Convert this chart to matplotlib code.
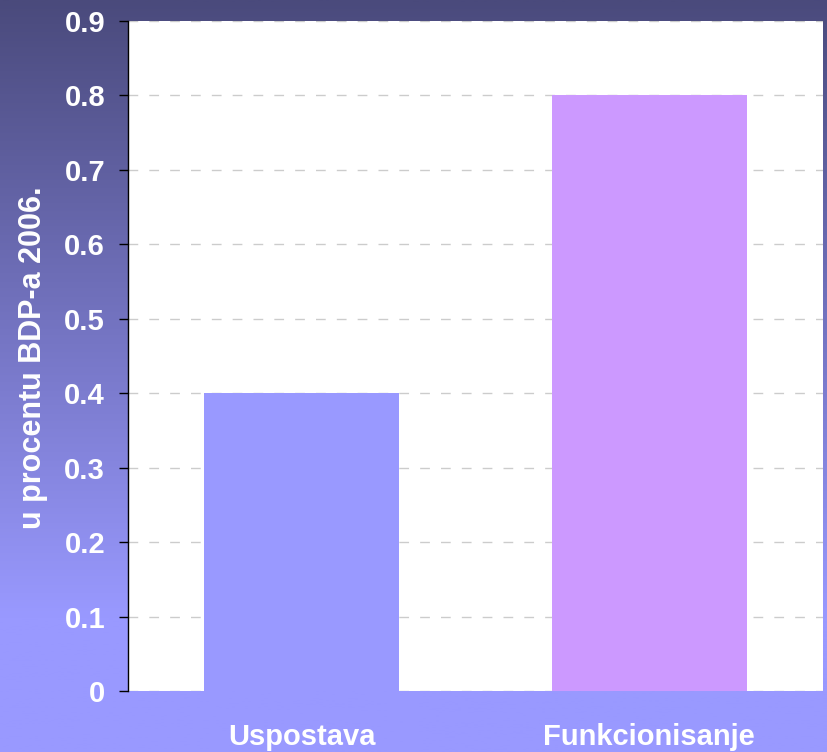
import numpy as np
import matplotlib
matplotlib.use("Agg")
import matplotlib.pyplot as plt
from matplotlib.colors import LinearSegmentedColormap

categories = ["Uspostava", "Funkcionisanje"]
values = [0.4, 0.8]
bar_colors = ["#9999ff", "#cc99ff"]
yticks = [0, 0.1, 0.2, 0.3, 0.4, 0.5, 0.6, 0.7, 0.8, 0.9]
ytick_labels = ["0", "0.1", "0.2", "0.3", "0.4", "0.5", "0.6", "0.7", "0.8", "0.9"]
ylabel = "u procentu BDP-a 2006."

plt.rcParams['font.family'] = ['Liberation Sans', 'DejaVu Sans']

fig = plt.figure(figsize=(8.27, 7.52), dpi=100)

# gradient background
bg = fig.add_axes([0, 0, 1, 1], zorder=-10)
cmap = LinearSegmentedColormap.from_list(
    "bg", [(0.0, "#4a4a7c"), (0.82, "#9999ff"), (1.0, "#9999ff")])
grad = np.linspace(0, 1, 512).reshape(-1, 1)
bg.imshow(grad, aspect="auto", cmap=cmap, extent=[0, 1, 0, 1], origin="upper")
bg.set_axis_off()

ax = fig.add_axes([128/827, 61/752, 695/827, 670/752])
ax.set_facecolor("white")
x = np.arange(len(categories))
ax.bar(x, values, width=0.56, color=bar_colors, zorder=2)
ax.set_xlim(-0.5, 1.5)
ax.set_ylim(0, 0.9)
ax.set_yticks(yticks)
ax.set_yticklabels(ytick_labels)
ax.set_xticks(x)
ax.set_xticklabels(categories)
ax.set_axisbelow(True)
ax.yaxis.grid(True, color="#cccccc", linestyle=(0, (7, 8)), linewidth=1.0)
for s in ["top", "right", "bottom"]:
    ax.spines[s].set_visible(False)
ax.spines["left"].set_color("black")
ax.spines["left"].set_linewidth(1.0)
ax.tick_params(axis="y", length=6.5, width=1, color="black", pad=10,
               labelsize=21, labelcolor="white")
for t in ax.get_yticklabels():
    t.set_fontweight("bold")
ax.tick_params(axis="x", length=0, pad=23, labelsize=21, labelcolor="white")
for t in ax.get_xticklabels():
    t.set_fontweight("bold")

fig.text(33/827, 1 - 358/752, ylabel, rotation=90, ha="center", va="center",
         color="white", fontsize=22, fontweight="bold")

fig.savefig("out.png", dpi=100)
